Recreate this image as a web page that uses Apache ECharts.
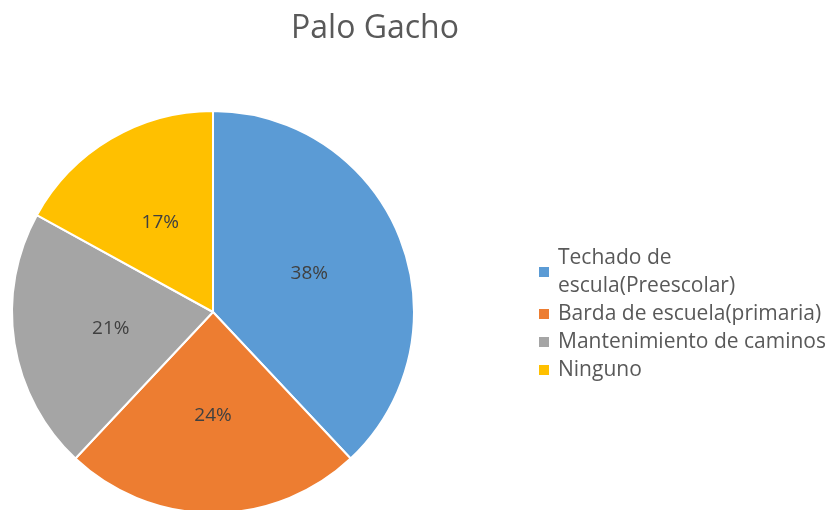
<!DOCTYPE html>
<html>
<head>
<meta charset="utf-8">
<script src="https://cdn.jsdelivr.net/npm/echarts@6/dist/echarts.min.js"></script>
<style>
  html, body { margin: 0; padding: 0; background: #fff; }
  #main { width: 828px; height: 510px; }
</style>
</head>
<body>
<div id="main"></div>
<script>
var categories = ['Techado de escula(Preescolar)', 'Barda de escuela(primaria)', 'Mantenimiento de caminos', 'Ninguno'];
var values = [38, 24, 21, 17];
var colors = ['#5B9BD5', '#ED7D31', '#A5A5A5', '#FFC000'];

var pieData = [];
for (var i = 0; i < categories.length; i++) {
    pieData.push({ name: categories[i], value: values[i] });
}

var myChart = echarts.init(document.getElementById('main'));
myChart.setOption({
    color: colors,
    title: {
        text: 'Palo Gacho',
        left: 370,
        textAlign: 'center',
        top: 8,
        textStyle: { fontFamily: 'Open Sans', fontSize: 32, fontWeight: 'normal', color: '#595959' }
    },
    legend: {
        orient: 'vertical',
        left: 532,
        top: 239,
        itemWidth: 12,
        itemHeight: 12,
        itemGap: 0,
        icon: 'rect',
        formatter: function (name) {
            // wrap the long first label like the original
            return name === categories[0] ? 'Techado de\nescula(Preescolar)' : name;
        },
        textStyle: { fontFamily: 'Open Sans', fontSize: 21, color: '#595959', lineHeight: 28, padding: [0, 0, 0, 3] }
    },
    series: [{
        type: 'pie',
        center: [213, 312],
        radius: 201,
        startAngle: 90,
        clockwise: true,
        animation: false,
        data: pieData,
        itemStyle: { borderColor: '#fff', borderWidth: 2 },
        label: {
            position: 'inside',
            formatter: '{c}%',
            fontFamily: 'Open Sans',
            fontSize: 19,
            color: '#404040'
        },
        labelLine: { show: false },
        emphasis: { disabled: true }
    }]
});
</script>
</body>
</html>
